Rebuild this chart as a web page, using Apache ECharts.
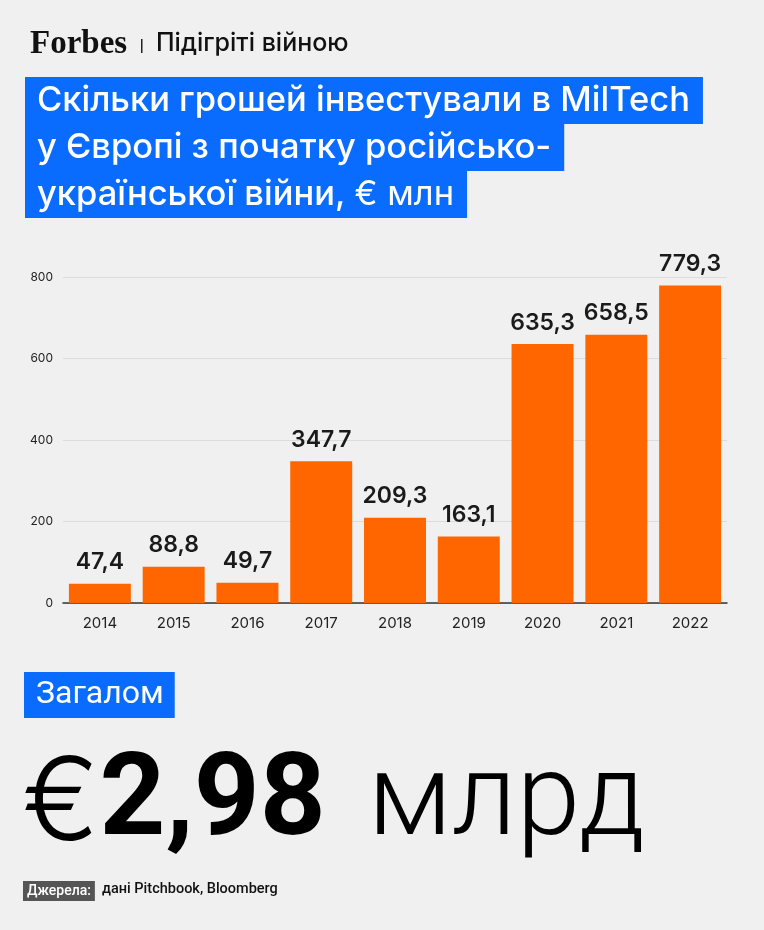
<!DOCTYPE html>
<html>
<head>
<meta charset="utf-8">
<script src="https://cdn.jsdelivr.net/npm/echarts@6/dist/echarts.min.js"></script>
<style>
html, body { margin: 0; padding: 0; background: #f0f0f0; }
#chart { width: 764px; height: 930px; }
</style>
</head>
<body>
<div id="chart"></div>
<script>
var years = ['2014', '2015', '2016', '2017', '2018', '2019', '2020', '2021', '2022'];
var invest = [47.4, 88.8, 49.7, 347.7, 209.3, 163.1, 635.3, 658.5, 779.3];
var titleLines = [
    'Скільки грошей інвестували в MilTech',
    'у Європі з початку російсько-',
    'української війни, {light|€ млн}'
];
var yTicks = { min: 0, max: 800, step: 200 };

var BLUE = '#0a6cff';
var ORANGE = '#ff6600';

function fmt(v) {
    return v.toFixed(1).replace('.', ',');
}

var myChart = echarts.init(document.getElementById('chart'));

var graphics = [{
    type: 'text',
    left: 30,
    top: 28,
    style: {
        text: 'Forbes',
        font: 'bold 33px "Liberation Serif", serif',
        fill: '#111'
    }
}, {
    type: 'rect',
    shape: { x: 141, y: 39, width: 1.5, height: 14 },
    style: { fill: '#222' }
}, {
    type: 'text',
    left: 156,
    top: 31,
    style: {
        text: 'Підігріті війною',
        font: '500 25px Inter, sans-serif',
        fill: '#111'
    }
}];

// title lines on blue bands
var lineTop = 77;
for (var i = 0; i < titleLines.length; i++) {
    graphics.push({
        type: 'text',
        left: 25,
        top: lineTop + i * 47,
        style: {
            text: titleLines[i],
            font: '500 34.5px Inter, sans-serif',
            fill: '#fff',
            backgroundColor: BLUE,
            padding: [5, 13, 5, 12],
            lineHeight: 37,
            rich: {
                light: { font: '400 34.5px Inter, sans-serif', fill: '#fff', lineHeight: 37 }
            }
        }
    });
}

graphics.push({
    type: 'text',
    left: 24,
    top: 672,
    style: {
        text: 'Загалом',
        font: '400 32px Roboto, sans-serif',
        fill: '#fff',
        backgroundColor: BLUE,
        padding: [5, 11, 5, 12],
        lineHeight: 36
    }
}, {
    type: 'text',
    left: 22,
    top: 748,
    style: {
        text: '{a|€}{b|2,98}{c|млрд}',
        rich: {
            a: { font: '300 115px Inter, sans-serif', fill: '#000', lineHeight: 130 },
            b: { font: 'bold 115px Roboto, sans-serif', fill: '#000', lineHeight: 130 },
            c: { font: '300 115px Roboto, sans-serif', fill: '#000', lineHeight: 130, padding: [0, 0, 0, 42] }
        }
    }
}, {
    type: 'text',
    left: 23,
    top: 881,
    style: {
        text: 'Джерела:',
        font: '500 14px Roboto, sans-serif',
        fill: '#fff',
        backgroundColor: '#555',
        padding: [2, 4, 2, 4],
        lineHeight: 16
    }
}, {
    type: 'text',
    left: 102,
    top: 882,
    style: {
        text: 'дані Pitchbook, Bloomberg',
        font: '500 14.5px Roboto, sans-serif',
        fill: '#111'
    }
});

var option = {
    backgroundColor: '#f0f0f0',
    animation: false,
    textStyle: { fontFamily: 'Inter, sans-serif' },
    grid: {
        left: 63,
        right: 37,
        top: 277,
        bottom: 327,
        containLabel: false
    },
    xAxis: {
        type: 'category',
        data: years,
        axisTick: { show: false },
        axisLine: { lineStyle: { color: '#333', width: 1.5 } },
        axisLabel: { color: '#222', fontSize: 15, margin: 13 }
    },
    yAxis: {
        type: 'value',
        min: yTicks.min,
        max: yTicks.max,
        interval: yTicks.step,
        axisLine: { show: false },
        axisTick: { show: false },
        splitLine: { lineStyle: { color: '#dcdcdc', width: 1 } },
        axisLabel: { color: '#222', fontSize: 12, margin: 10 }
    },
    series: [{
        type: 'bar',
        data: invest,
        barCategoryGap: '16%',
        itemStyle: { color: ORANGE },
        label: {
            show: true,
            position: 'top',
            distance: 10,
            color: '#1a1a1a',
            fontSize: 23,
            fontWeight: 600,
            formatter: function(p) { return fmt(p.value); }
        }
    }],
    graphic: graphics
};

myChart.setOption(option);
</script>
</body>
</html>
